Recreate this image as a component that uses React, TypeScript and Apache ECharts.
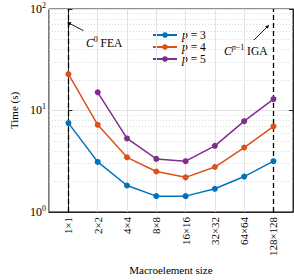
import React, { useEffect, useRef } from "react";
import * as echarts from "echarts";

const categories = ["1×1", "2×2", "4×4", "8×8", "16×16", "32×32", "64×64", "128×128"];
const p3 = [7.5, 3.11, 1.82, 1.43, 1.43, 1.69, 2.23, 3.16];
const p4 = [22.8, 7.22, 3.45, 2.5, 2.19, 2.77, 4.31, 6.97];
const p5 = [null, 15.1, 5.3, 3.33, 3.16, 4.48, 7.84, 12.95];
const seriesNames = ["p = 3", "p = 4", "p = 5"];
const colors = ["#0072BD", "#D95319", "#7E2F8E"];
const minorGrid = [2, 3, 4, 5, 6, 7, 8, 9, 20, 30, 40, 50, 60, 70, 80, 90];
const dashedAt = [0, 7];
const vGrid = [1, 2, 3, 4, 5, 6];

const FONT = "Liberation Serif";

export default function App() {
  const ref = useRef<HTMLDivElement>(null);
  useEffect(() => {
    const chart = echarts.init(ref.current!, null, { renderer: "svg" });
    const toPts = (arr: (number | null)[]) =>
      arr.map((v, i) => (v == null ? null : [i, v])).filter((d) => d) as number[][];
    const data = [p3, p4, p5];
    const series: any[] = data.map((arr, k) => ({
      name: seriesNames[k],
      type: "line",
      data: toPts(arr),
      symbol: "circle",
      symbolSize: 6,
      lineStyle: { width: 1.5, color: colors[k] },
      itemStyle: { color: colors[k] },
      z: 5,
    }));
    series.unshift({
      type: "line",
      data: [],
      silent: true,
      markLine: {
        silent: true,
        symbol: "none",
        label: { show: false },
        animation: false,
        data: [
          ...vGrid.map((x) => ({ xAxis: x, lineStyle: { color: "#e3e3e3", type: "solid", width: 1 } })),
          ...minorGrid.map((y) => ({ yAxis: y, lineStyle: { color: "#cfcfcf", type: [1, 2], width: 0.8 } })),
        ],
      },
      z: 1,
    });
    series.push({
      type: "line",
      data: [],
      silent: true,
      markLine: {
        silent: true,
        symbol: "none",
        label: { show: false },
        animation: false,
        data: dashedAt.map((x) => ({ xAxis: x, lineStyle: { color: "#000", type: [5, 3], width: 1.3 } })),
      },
      z: 6,
    });
    const sup = (base: string, s: string) => `{b|${base}}{s|${s}}`;
    chart.setOption({
      animation: false,
      textStyle: { fontFamily: FONT },
      grid: { left: 43, right: 1, top: 9, bottom: 63, show: true, borderColor: "#262626", borderWidth: 1 },
      legend: {
        data: seriesNames,
        orient: "vertical",
        left: 147,
        top: 24,
        itemWidth: 24,
        itemHeight: 7,
        itemGap: 0,
        textStyle: {
          fontFamily: FONT,
          fontSize: 11.5,
          lineHeight: 12,
          color: "#000",
          rich: { i: { fontStyle: "italic", fontFamily: FONT, fontSize: 11.5 } },
        },
        formatter: (n: string) => `{i|p}${n.slice(1)}`,
      },
      xAxis: {
        type: "value",
        min: -2 / 3,
        max: 7 + 2 / 3,
        name: "Macroelement size",
        nameLocation: "middle",
        nameGap: 52,
        nameTextStyle: { fontFamily: FONT, fontSize: 11, color: "#000" },
        axisLine: { show: true, lineStyle: { color: "#262626" } },
        axisTick: { show: true, inside: true, length: 3, customValues: [0, 1, 2, 3, 4, 5, 6, 7], lineStyle: { color: "#262626" } },
        splitLine: { show: false },
        axisLabel: {
          customValues: [0, 1, 2, 3, 4, 5, 6, 7],
          formatter: (v: number) => categories[Math.round(v)],
          rotate: 90,
          margin: 5,
          fontFamily: FONT,
          fontSize: 11,
          color: "#000",
        },
      },
      yAxis: [
        {
          type: "log",
          logBase: 10,
          min: 1,
          max: 100,
          name: "Time (s)",
          nameLocation: "middle",
          nameGap: 27,
          nameTextStyle: { fontFamily: FONT, fontSize: 11, color: "#000" },
          axisLine: { show: true, lineStyle: { color: "#262626" } },
          axisTick: { show: true, inside: true, length: 4, lineStyle: { color: "#262626" } },
          splitLine: { show: true, lineStyle: { color: "#e3e3e3", width: 1 } },
          axisLabel: {
            margin: 3,
            formatter: (v: number) => sup("10", String(Math.round(Math.log10(v)))),
            rich: {
              b: { fontFamily: FONT, fontSize: 12, color: "#000", lineHeight: 15 },
              s: { fontFamily: FONT, fontSize: 8, color: "#000", verticalAlign: "top", lineHeight: 15 },
            },
          },
        },
        {
          type: "log",
          logBase: 10,
          min: 1,
          max: 100,
          position: "right",
          axisLine: { show: true, lineStyle: { color: "#262626" } },
          axisTick: { show: true, inside: true, length: 4, lineStyle: { color: "#262626" } },
          splitLine: { show: false },
          axisLabel: { show: false },
        },
      ],
      graphic: [
        {
          type: "text",
          left: 86,
          top: 35,
          style: {
            text: "{i|C}{s|0} FEA",
            fontFamily: FONT,
            fontSize: 11.5,
            fill: "#000",
            rich: {
              i: { fontStyle: "italic", fontFamily: FONT, fontSize: 11.5, lineHeight: 15 },
              s: { fontFamily: FONT, fontSize: 8, verticalAlign: "top", lineHeight: 15 },
            },
          },
          z: 10,
        },
        {
          type: "text",
          left: 224,
          top: 43,
          style: {
            text: "{i|C}{si|p}{s|−1} IGA",
            fontFamily: FONT,
            fontSize: 11.5,
            fill: "#000",
            rich: {
              i: { fontStyle: "italic", fontFamily: FONT, fontSize: 11.5, lineHeight: 15 },
              si: { fontStyle: "italic", fontFamily: FONT, fontSize: 8, verticalAlign: "top", lineHeight: 15 },
              s: { fontFamily: FONT, fontSize: 8, verticalAlign: "top", lineHeight: 15 },
            },
          },
          z: 10,
        },
        { type: "line", shape: { x1: 83.5, y1: 30.7, x2: 69, y2: 23.2 }, style: { stroke: "#000", lineWidth: 0.9 }, z: 10 },
        { type: "polygon", shape: { points: [[67, 22.2], [71.5, 22.2], [69.6, 25.6]] }, style: { fill: "#000" }, z: 10 },
        { type: "line", shape: { x1: 254, y1: 40, x2: 267.5, y2: 26.5 }, style: { stroke: "#000", lineWidth: 0.9 }, z: 10 },
        { type: "polygon", shape: { points: [[269, 25], [265.3, 26.3], [267.8, 28.8]] }, style: { fill: "#000" }, z: 10 },
      ],
      series,
    });
    return () => chart.dispose();
  }, []);
  return <div ref={ref} style={{ position: "absolute", left: 0, top: 0, width: 294, height: 280 }} />;
}
